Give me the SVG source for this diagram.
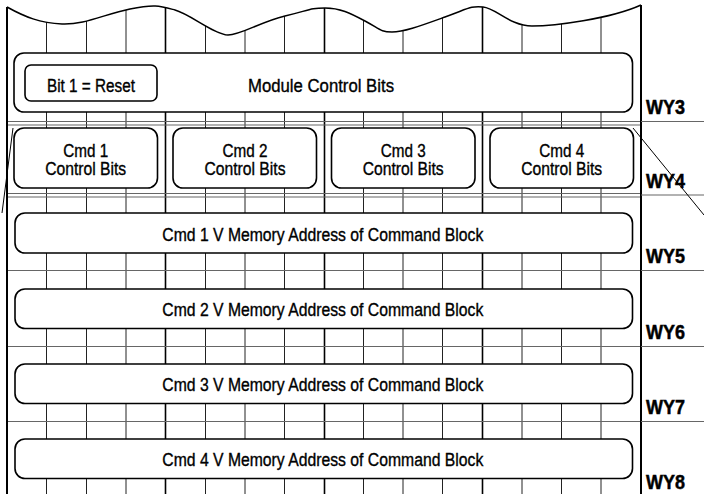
<svg xmlns="http://www.w3.org/2000/svg" width="704" height="494" viewBox="0 0 704 494">
<style>
.bg{fill:#fff}
.vl{stroke:#222;stroke-width:1;fill:none}
.vb{stroke:#000;stroke-width:1.6;fill:none}
.hl{stroke:#666;stroke-width:1.2;fill:none}
.bd{stroke:#000;stroke-width:2;fill:none}
.box{fill:#fff;stroke:#000;stroke-width:1.6}
.t{font-family:"Liberation Sans",Arial,sans-serif;font-size:18px;fill:#000;stroke:#000;stroke-width:0.35;text-anchor:middle}
.wy{font-family:"Liberation Sans",Arial,sans-serif;font-size:21px;font-weight:bold;fill:#000;stroke:#000;stroke-width:0.5}
.cn{stroke:#000;stroke-width:1;fill:none}
</style>
<defs>
<clipPath id="area">
<path d="M7,7 C25,17 40,23 62,24 S105,14 130,9 S160,6 175,10 S215,35 228,35 S260,22 285,16 S310,8 325,8 S350,13 365,21 S380,32 392,32 S420,26 445,17 S470,6 483,7 S510,26 532,26 S610,19 641,5 L641,494 L7,494 Z"/>
</clipPath>
</defs>
<rect class="bg" x="0" y="0" width="704" height="494"/>
<g id="grid" clip-path="url(#area)">
<g class="vl">
<line x1="46.5" y1="0" x2="46.5" y2="494"/>
<line x1="86.5" y1="0" x2="86.5" y2="494"/>
<line x1="126" y1="0" x2="126" y2="494"/>
<line x1="205.5" y1="0" x2="205.5" y2="494"/>
<line x1="245" y1="0" x2="245" y2="494"/>
<line x1="284.5" y1="0" x2="284.5" y2="494"/>
<line x1="363.5" y1="0" x2="363.5" y2="494"/>
<line x1="403" y1="0" x2="403" y2="494"/>
<line x1="442.5" y1="0" x2="442.5" y2="494"/>
<line x1="522" y1="0" x2="522" y2="494"/>
<line x1="561.5" y1="0" x2="561.5" y2="494"/>
<line x1="601" y1="0" x2="601" y2="494"/>
</g>
<g class="vb">
<line x1="165.5" y1="0" x2="165.5" y2="494"/>
<line x1="324.5" y1="0" x2="324.5" y2="494"/>
<line x1="482.5" y1="0" x2="482.5" y2="494"/>
</g>
<g class="hl">
<line x1="7" y1="121.5" x2="641" y2="121.5"/>
<line x1="7" y1="125" x2="641" y2="125"/>
<line x1="7" y1="193.5" x2="641" y2="193.5"/>
<line x1="7" y1="197" x2="641" y2="197"/>
<line x1="7" y1="270.5" x2="641" y2="270.5"/>
<line x1="7" y1="346.5" x2="641" y2="346.5"/>
<line x1="7" y1="421.5" x2="641" y2="421.5"/>
</g>
</g>
<g id="frame">
<path class="bd" d="M7,7 C25,17 40,23 62,24 S105,14 130,9 S160,6 175,10 S215,35 228,35 S260,22 285,16 S310,8 325,8 S350,13 365,21 S380,32 392,32 S420,26 445,17 S470,6 483,7 S510,26 532,26 S610,19 641,5" style="stroke-width:1.5"/>
<line class="bd" x1="7" y1="7" x2="7" y2="494"/>
<line class="bd" x1="641" y1="5" x2="641" y2="494"/>
<g class="hl">
<line x1="641" y1="121.5" x2="704" y2="121.5"/>
<line x1="641" y1="195" x2="704" y2="195"/>
<line x1="641" y1="270.5" x2="704" y2="270.5"/>
<line x1="641" y1="346.5" x2="704" y2="346.5"/>
<line x1="641" y1="421.5" x2="704" y2="421.5"/>
</g>
</g>
<g id="module-control">
<rect class="box" x="14" y="53" width="618.5" height="59" rx="10"/>
<text class="t" x="321" y="91.5" textLength="146" lengthAdjust="spacingAndGlyphs">Module Control Bits</text>
</g>
<g id="bit1-reset">
<rect class="box" x="25" y="65" width="132" height="36" rx="6"/>
<text class="t" x="91" y="91.5" textLength="88" lengthAdjust="spacingAndGlyphs">Bit 1 = Reset</text>
</g>
<g id="cmd1-control">
<rect class="box" x="14" y="128" width="143.5" height="60" rx="10"/>
<text class="t" x="85.7" y="156.5" textLength="45" lengthAdjust="spacingAndGlyphs">Cmd 1</text>
<text class="t" x="85.7" y="175" textLength="81" lengthAdjust="spacingAndGlyphs">Control Bits</text>
</g>
<g id="cmd2-control">
<rect class="box" x="173" y="128" width="143.5" height="60" rx="10"/>
<text class="t" x="245" y="156.5" textLength="45" lengthAdjust="spacingAndGlyphs">Cmd 2</text>
<text class="t" x="245" y="175" textLength="81" lengthAdjust="spacingAndGlyphs">Control Bits</text>
</g>
<g id="cmd3-control">
<rect class="box" x="331.5" y="128" width="143.5" height="60" rx="10"/>
<text class="t" x="403.2" y="156.5" textLength="45" lengthAdjust="spacingAndGlyphs">Cmd 3</text>
<text class="t" x="403.2" y="175" textLength="81" lengthAdjust="spacingAndGlyphs">Control Bits</text>
</g>
<g id="cmd4-control">
<rect class="box" x="490" y="128" width="143.5" height="60" rx="10"/>
<text class="t" x="561.7" y="156.5" textLength="45" lengthAdjust="spacingAndGlyphs">Cmd 4</text>
<text class="t" x="561.7" y="175" textLength="81" lengthAdjust="spacingAndGlyphs">Control Bits</text>
</g>
<g id="cmd1-address">
<rect class="box" x="15" y="213" width="617.5" height="40" rx="10"/>
<text class="t" x="322.8" y="240.5" textLength="321" lengthAdjust="spacingAndGlyphs">Cmd 1 V Memory Address of Command Block</text>
</g>
<g id="cmd2-address">
<rect class="box" x="15" y="289" width="617.5" height="39.5" rx="10"/>
<text class="t" x="322.8" y="315.5" textLength="321" lengthAdjust="spacingAndGlyphs">Cmd 2 V Memory Address of Command Block</text>
</g>
<g id="cmd3-address">
<rect class="box" x="15" y="364" width="617.5" height="39.5" rx="10"/>
<text class="t" x="322.8" y="390.5" textLength="321" lengthAdjust="spacingAndGlyphs">Cmd 3 V Memory Address of Command Block</text>
</g>
<g id="cmd4-address">
<rect class="box" x="15" y="439" width="617.5" height="39.5" rx="10"/>
<text class="t" x="322.8" y="465.5" textLength="321" lengthAdjust="spacingAndGlyphs">Cmd 4 V Memory Address of Command Block</text>
</g>
<g id="labels">
<text id="wy3" class="wy" x="646" y="113.5" textLength="39" lengthAdjust="spacingAndGlyphs">WY3</text>
<text id="wy4" class="wy" x="646" y="188" textLength="39" lengthAdjust="spacingAndGlyphs">WY4</text>
<text id="wy5" class="wy" x="646" y="263" textLength="39" lengthAdjust="spacingAndGlyphs">WY5</text>
<text id="wy6" class="wy" x="646" y="338.5" textLength="39" lengthAdjust="spacingAndGlyphs">WY6</text>
<text id="wy7" class="wy" x="646" y="413.5" textLength="39" lengthAdjust="spacingAndGlyphs">WY7</text>
<text id="wy8" class="wy" x="646" y="488.5" textLength="39" lengthAdjust="spacingAndGlyphs">WY8</text>
</g>
<g id="connectors">
<line class="cn" x1="13" y1="128" x2="2" y2="213"/>
<line class="cn" x1="633" y1="128" x2="704" y2="215"/>
</g>
</svg>
